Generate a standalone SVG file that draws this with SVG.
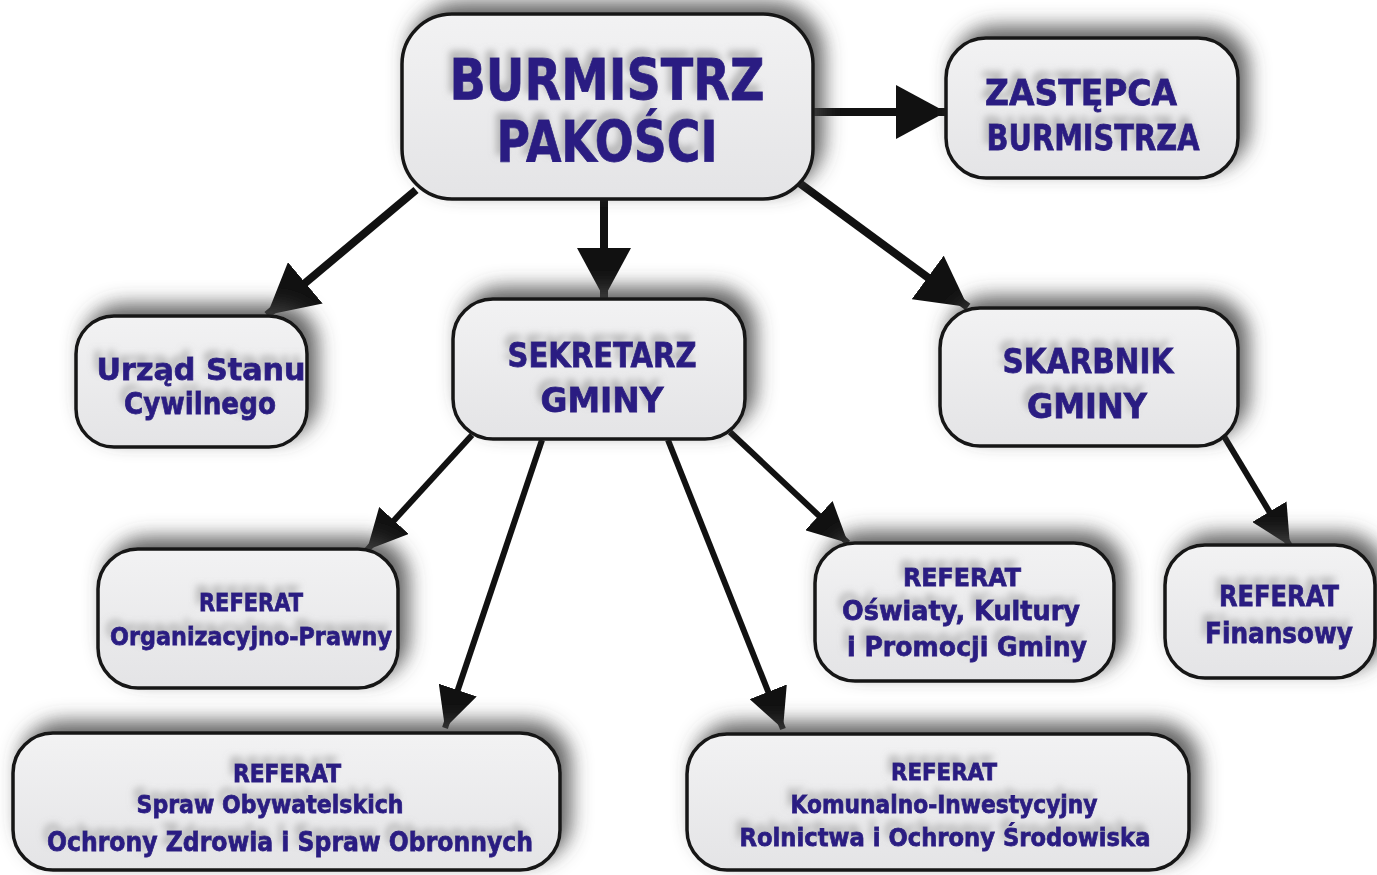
<svg xmlns="http://www.w3.org/2000/svg" width="1377" height="875" viewBox="0 0 1377 875">
<defs>
<linearGradient id="fillG" x1="0" y1="0" x2="0" y2="1">
<stop offset="0" stop-color="#f2f2f3"/>
<stop offset="1" stop-color="#e4e4e6"/>
</linearGradient>
<filter id="boxShadow" x="-20%" y="-40%" width="140%" height="180%">
<feGaussianBlur in="SourceAlpha" stdDeviation="10"/>
<feOffset dx="9" dy="-10" result="b"/>
<feFlood flood-color="#444" flood-opacity="0.85"/>
<feComposite in2="b" operator="in" result="s"/>
<feMerge><feMergeNode in="s"/><feMergeNode in="SourceGraphic"/></feMerge>
</filter>
<filter id="textShadow" x="-20%" y="-60%" width="140%" height="220%">
<feGaussianBlur in="SourceAlpha" stdDeviation="3.5"/>
<feOffset dx="-4" dy="-7" result="b"/>
<feFlood flood-color="#888" flood-opacity="0.55"/>
<feComposite in2="b" operator="in" result="s"/>
<feMerge><feMergeNode in="s"/><feMergeNode in="SourceGraphic"/></feMerge>
</filter>
<marker id="headBig" markerUnits="userSpaceOnUse" markerWidth="52" markerHeight="54" refX="50" refY="27" orient="auto">
<path d="M0,0 L50,27 L0,54 Z" fill="#111"/>
</marker>
<marker id="headSmall" markerUnits="userSpaceOnUse" markerWidth="42" markerHeight="40" refX="40" refY="20" orient="auto">
<path d="M0,0 L40,20 L0,40 Z" fill="#111"/>
</marker>
</defs>
<style>
.box{fill:url(#fillG);stroke:#161616;stroke-width:3.5;filter:url(#boxShadow)}
.t{font-family:"DejaVu Sans",sans-serif;font-weight:bold;fill:#2a1c82;stroke:#2a1c82;stroke-width:0.8;text-anchor:middle;filter:url(#textShadow)}
.big{stroke:#111;stroke-width:8;fill:none;marker-end:url(#headBig)}
.sm{stroke:#111;stroke-width:6;fill:none;marker-end:url(#headSmall)}
</style>
<rect width="1377" height="875" fill="#fff"/>

<g id="connectors">
<line class="big" x1="813" y1="112" x2="946" y2="112"/>
<line class="big" x1="604" y1="199" x2="604" y2="298"/>
<line class="big" x1="416" y1="190" x2="267" y2="315"/>
<line class="big" x1="798" y1="182" x2="968" y2="307"/>
<line class="sm" x1="472" y1="435" x2="367" y2="550"/>
<line class="sm" x1="542" y1="440" x2="445" y2="728"/>
<line class="sm" x1="668" y1="440" x2="783" y2="729"/>
<line class="sm" x1="730" y1="432" x2="848" y2="543"/>
<line class="sm" x1="1222" y1="433" x2="1290" y2="546"/>
</g>

<g id="burmistrz">
<rect class="box" x="402" y="14" width="411" height="185" rx="50"/>
<text class="t" x="607" y="100" font-size="57" textLength="315" lengthAdjust="spacingAndGlyphs">BURMISTRZ</text>
<text class="t" x="607" y="162" font-size="57" textLength="221" lengthAdjust="spacingAndGlyphs">PAKOŚCI</text>
</g>

<g id="zastepca">
<rect class="box" x="946" y="38" width="292" height="140" rx="40"/>
<text class="t" x="1081" y="105" font-size="35" textLength="192" lengthAdjust="spacingAndGlyphs">ZASTĘPCA</text>
<text class="t" x="1093" y="150" font-size="35" textLength="213" lengthAdjust="spacingAndGlyphs">BURMISTRZA</text>
</g>

<g id="usc">
<rect class="box" x="76" y="316" width="231" height="131" rx="38"/>
<text class="t" x="201" y="380" font-size="31" textLength="209" lengthAdjust="spacingAndGlyphs">Urząd Stanu</text>
<text class="t" x="200" y="414" font-size="31" textLength="152" lengthAdjust="spacingAndGlyphs">Cywilnego</text>
</g>

<g id="sekretarz">
<rect class="box" x="453" y="299" width="292" height="140" rx="40"/>
<text class="t" x="602" y="367" font-size="34" textLength="189" lengthAdjust="spacingAndGlyphs">SEKRETARZ</text>
<text class="t" x="602" y="412" font-size="34" textLength="123" lengthAdjust="spacingAndGlyphs">GMINY</text>
</g>

<g id="skarbnik">
<rect class="box" x="940" y="308" width="298" height="138" rx="40"/>
<text class="t" x="1088" y="373" font-size="34" textLength="171" lengthAdjust="spacingAndGlyphs">SKARBNIK</text>
<text class="t" x="1087" y="418" font-size="34" textLength="120" lengthAdjust="spacingAndGlyphs">GMINY</text>
</g>

<g id="org-prawny">
<rect class="box" x="98" y="549" width="300" height="139" rx="40"/>
<text class="t" x="251" y="611" font-size="25" textLength="104" lengthAdjust="spacingAndGlyphs">REFERAT</text>
<text class="t" x="251" y="645" font-size="25" textLength="282" lengthAdjust="spacingAndGlyphs">Organizacyjno-Prawny</text>
</g>

<g id="oswiaty">
<rect class="box" x="815" y="543" width="299" height="138" rx="40"/>
<text class="t" x="962" y="586" font-size="25" textLength="118" lengthAdjust="spacingAndGlyphs">REFERAT</text>
<text class="t" x="961" y="620" font-size="27" textLength="238" lengthAdjust="spacingAndGlyphs">Oświaty, Kultury</text>
<text class="t" x="967" y="656" font-size="27" textLength="240" lengthAdjust="spacingAndGlyphs">i Promocji Gminy</text>
</g>

<g id="finansowy">
<rect class="box" x="1165" y="545" width="210" height="133" rx="40"/>
<text class="t" x="1279" y="606" font-size="29" textLength="120" lengthAdjust="spacingAndGlyphs">REFERAT</text>
<text class="t" x="1279" y="643" font-size="28" textLength="148" lengthAdjust="spacingAndGlyphs">Finansowy</text>
</g>

<g id="spraw-obywatelskich">
<rect class="box" x="13" y="733" width="547" height="137" rx="40"/>
<text class="t" x="287" y="782" font-size="24" textLength="108" lengthAdjust="spacingAndGlyphs">REFERAT</text>
<text class="t" x="270" y="813" font-size="25" textLength="267" lengthAdjust="spacingAndGlyphs">Spraw Obywatelskich</text>
<text class="t" x="290" y="851" font-size="27" textLength="486" lengthAdjust="spacingAndGlyphs">Ochrony Zdrowia i Spraw Obronnych</text>
</g>

<g id="komunalno">
<rect class="box" x="687" y="734" width="502" height="136" rx="40"/>
<text class="t" x="944" y="780" font-size="23" textLength="106" lengthAdjust="spacingAndGlyphs">REFERAT</text>
<text class="t" x="944" y="813" font-size="24" textLength="307" lengthAdjust="spacingAndGlyphs">Komunalno-Inwestycyjny</text>
<text class="t" x="945" y="846" font-size="25" textLength="411" lengthAdjust="spacingAndGlyphs">Rolnictwa i Ochrony Środowiska</text>
</g>
</svg>
